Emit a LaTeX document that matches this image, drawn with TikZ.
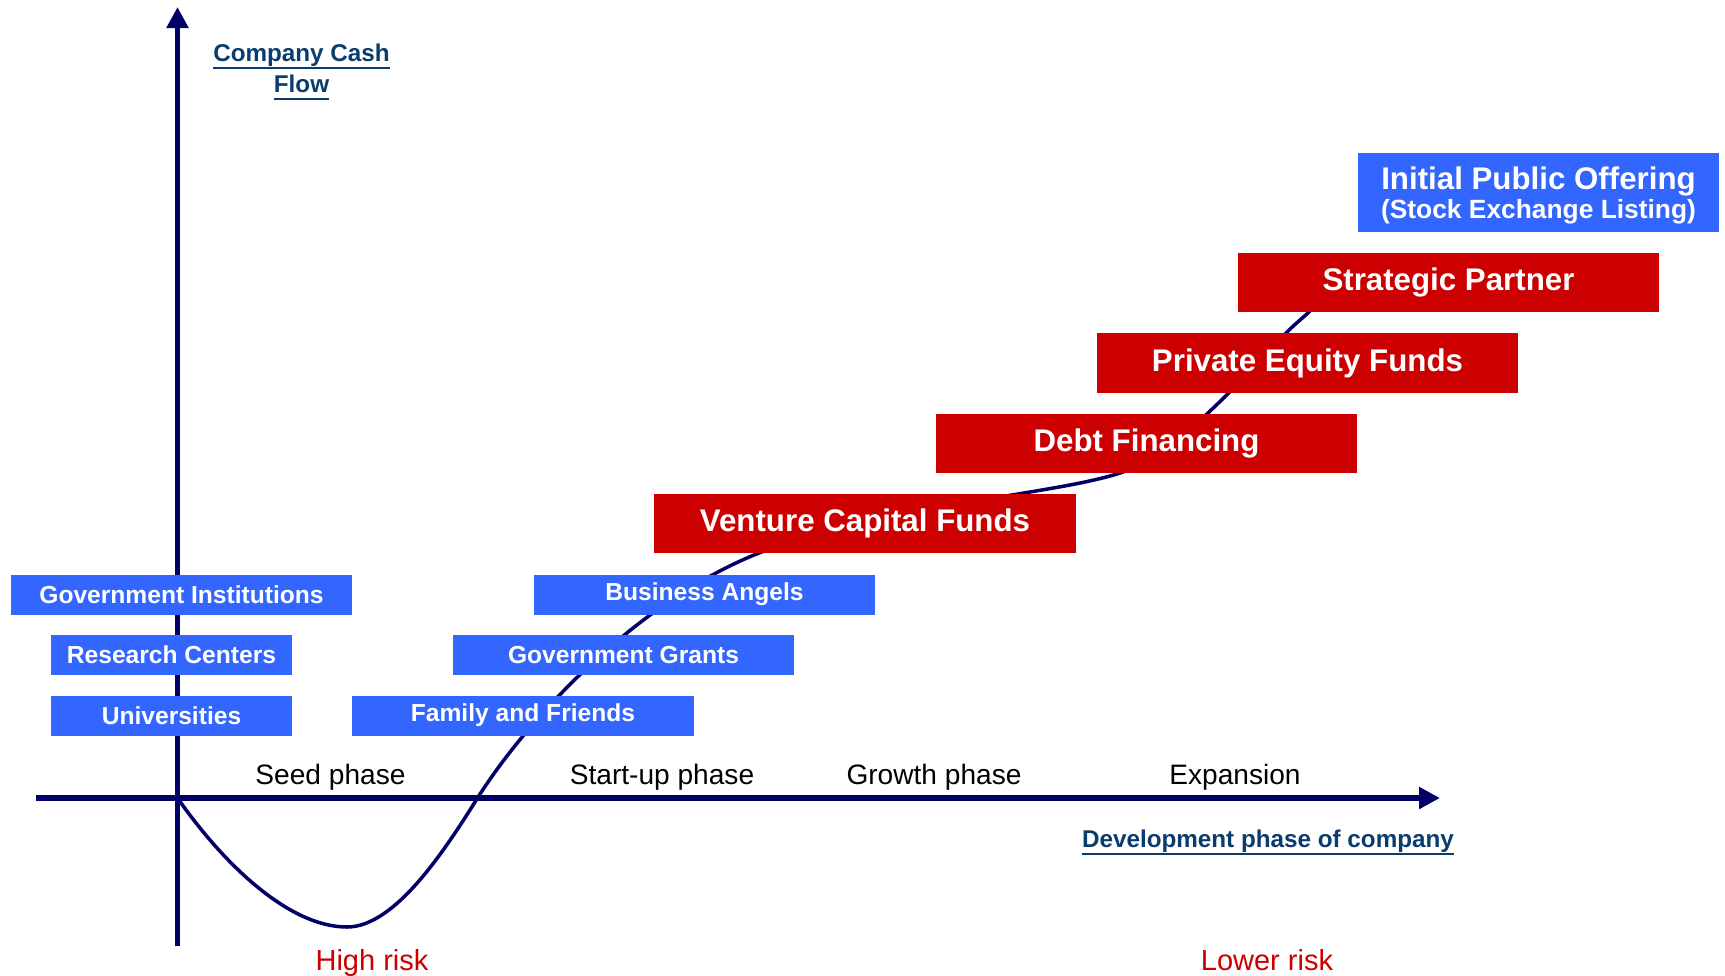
\documentclass[tikz,border=0pt]{standalone}
\usepackage{fontspec}
\setmainfont{Liberation Sans}
\usetikzlibrary{arrows.meta}
\definecolor{boxblue}{HTML}{3366FF}
\definecolor{boxred}{HTML}{CC0000}
\definecolor{axisnavy}{HTML}{000066}
\definecolor{labelblue}{HTML}{0B3C6E}
\definecolor{riskred}{HTML}{CC0000}

\begin{document}
\begin{tikzpicture}[x=0.02cm,y=-0.02cm,
  axisline/.style={draw=axisnavy, line width=3.4pt,
    -{Triangle[length=0.42cm,width=0.42cm]}},
  flowcurve/.style={draw=axisnavy, line width=2pt, line cap=round},
  sourcebox/.style={rectangle, inner sep=0pt, fill=boxblue, text=white,
    font=\fontsize{14}{16}\selectfont\bfseries,
    minimum width=6.82cm, minimum height=0.8cm},
  smallsource/.style={sourcebox, minimum width=4.82cm},
  fundbox/.style={rectangle, inner sep=0pt, fill=boxred, text=white,
    font=\fontsize{17.8}{20}\selectfont\bfseries,
    minimum width=8.42cm, minimum height=1.19cm},
  phaselabel/.style={inner sep=0pt, anchor=base, text=black,
    font=\fontsize{16}{18}\selectfont},
  risklabel/.style={inner sep=0pt, anchor=base, text=riskred,
    font=\fontsize{16.5}{18}\selectfont},
  axislabel/.style={inner sep=0pt, text=labelblue, text depth=0.22em,
    font=\fontsize{13.8}{16}\selectfont\bfseries},
  underbar/.style={draw=labelblue, line width=1.1pt},
]
\useasboundingbox[fill=white] (0,0) rectangle (1725,975);

% axes
\coordinate (ybottom) at (177.5,946);
\coordinate (ytop) at (177.5,7);
\coordinate (xleft) at (36,798);
\coordinate (xright) at (1440,798);
\draw[axisline] (ybottom) -- (ytop);
\draw[axisline] (xleft) -- (xright);

% cash flow curve of the company (J-curve)
\coordinate (origin) at (177.5,798);
\draw[flowcurve] (origin)
  .. controls (225,866) and (290,927) .. (347,927)
  .. controls (395,927) and (445,850) .. (477.5,798)
  .. controls (530,715) and (640,600) .. (759,553)
  .. controls (830,525) and (950,505) .. (1018,494)
  .. controls (1060,487) and (1090,482) .. (1117,474)
  .. controls (1150,464) and (1185,435) .. (1208,413)
  .. controls (1240,383) and (1270,350) .. (1286,333)
  .. controls (1293,326) and (1300,320) .. (1308,313)
  -- (1330,290);

% axis titles
\node[axislabel] (cash) at (301.5,55) {Company Cash};
\node[axislabel] (flow) at (301.5,86) {Flow};
\draw[underbar] ([yshift=-1pt]cash.south west) -- ([yshift=-1pt]cash.south east);
\draw[underbar] ([yshift=-1pt]flow.south west) -- ([yshift=-1pt]flow.south east);
\node[axislabel] (devphase) at (1268,841) {Development phase of company};
\draw[underbar] ([yshift=-1pt]devphase.south west) -- ([yshift=-1pt]devphase.south east);

% phases along the horizontal axis
\node[phaselabel] (seed) at (330.5,784) {Seed phase};
\node[phaselabel] (startup) at (662,784) {Start-up phase};
\node[phaselabel] (growth) at (934,784) {Growth phase};
\node[phaselabel] (expansion) at (1235,784) {Expansion};

% risk labels
\node[risklabel] (highrisk) at (372,970) {High risk};
\node[risklabel] (lowrisk) at (1267,970) {Lower risk};

% early-stage sources of finance
\node[sourcebox] (govinst) at (181.5,594.5) {Government Institutions};
\node[smallsource] (research) at (171.5,655) {Research Centers};
\node[smallsource] (univ) at (171.5,715.5) {Universities};
\node[sourcebox, minimum width=6.84cm] (family) at (523,715.5) {Family and Friends};
\node[sourcebox] (grants) at (623.5,655) {Government Grants};
\node[sourcebox] (angels) at (704.5,594.5) {Business Angels};

% later-stage sources of finance
\node[fundbox, minimum width=8.44cm] (vc) at (865,523.5) {Venture Capital Funds};
\node[fundbox] (debt) at (1146.5,443.5) {Debt Financing};
\node[fundbox] (pe) at (1307.5,363) {Private Equity Funds};
\node[fundbox] (partner) at (1448.5,282.5) {Strategic Partner};

% stock market listing
\node[rectangle, inner sep=0pt, fill=boxblue, text=white, align=center,
  minimum width=7.22cm, minimum height=1.58cm] (ipo) at (1538.5,192.5)
  {\fontsize{17.8}{20}\selectfont\bfseries\rule{0pt}{16.5pt}Initial Public Offering\\[1pt]
   \fontsize{15}{17}\selectfont\bfseries (Stock Exchange Listing)};
\end{tikzpicture}
\end{document}
